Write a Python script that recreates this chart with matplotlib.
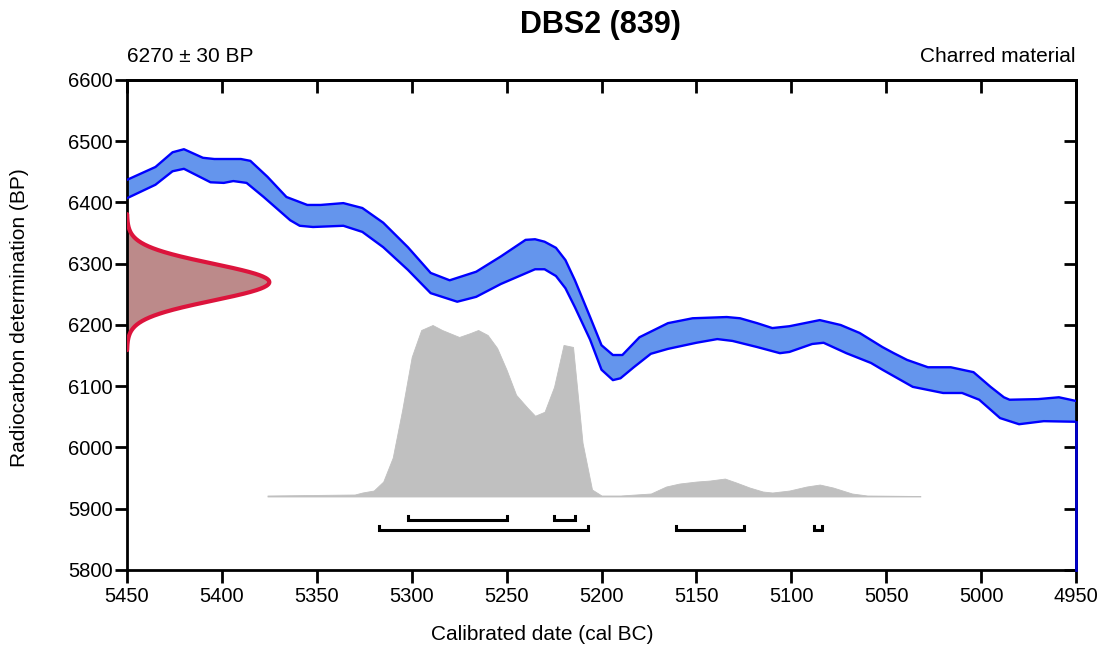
import numpy as np
import matplotlib
matplotlib.use("Agg")
from matplotlib import pyplot as plt

plt.rcParams['font.family'] = ['Liberation Sans', 'DejaVu Sans']

# radiocarbon measurement
c14_mean = 6270
c14_sd = 30

# calibration curve, upper edge (cal BC, BP)
upper_year = [5450, 5435, 5426, 5420, 5410, 5404, 5390, 5385, 5376, 5366, 5355, 5348,
              5336, 5326, 5315, 5302, 5290, 5280, 5266, 5253, 5240, 5235, 5230, 5224,
              5219, 5214, 5206, 5200, 5194, 5189, 5180, 5165, 5152, 5134, 5127, 5118,
              5110, 5101, 5085, 5074, 5064, 5052, 5046, 5039, 5028, 5016, 5004, 4995,
              4988, 4985, 4970, 4959, 4950]
upper_bp = [6437, 6458, 6482, 6487, 6473, 6471, 6471, 6468, 6442, 6409, 6396, 6396,
            6399, 6391, 6367, 6327, 6285, 6273, 6287, 6312, 6339, 6340, 6336, 6326,
            6306, 6273, 6213, 6167, 6151, 6151, 6180, 6203, 6211, 6213, 6211, 6203,
            6195, 6198, 6208, 6200, 6187, 6164, 6154, 6143, 6131, 6131, 6123, 6099,
            6082, 6078, 6079, 6082, 6076]

# calibration curve, lower edge
lower_year = [5450, 5435, 5426, 5420, 5406, 5399, 5394, 5387, 5378, 5364, 5359, 5352,
              5336, 5326, 5315, 5302, 5290, 5276, 5266, 5253, 5235, 5230, 5224, 5219,
              5214, 5206, 5200, 5194, 5190, 5183, 5174, 5165, 5150, 5139, 5131, 5118,
              5106, 5101, 5089, 5083, 5071, 5058, 5052, 5036, 5020, 5010, 5001, 4990,
              4980, 4967, 4950]
lower_bp = [6407, 6429, 6451, 6455, 6433, 6432, 6435, 6432, 6409, 6371, 6362, 6360,
            6362, 6352, 6327, 6290, 6252, 6238, 6246, 6267, 6291, 6291, 6280, 6260,
            6229, 6176, 6127, 6110, 6113, 6131, 6153, 6161, 6171, 6177, 6174, 6164,
            6154, 6156, 6169, 6171, 6154, 6138, 6127, 6099, 6089, 6089, 6078, 6048,
            6038, 6043, 6042]

# calibrated probability (relative)
post_year = [5376, 5330, 5326, 5320, 5315, 5310, 5305, 5300, 5295, 5289, 5284, 5275,
             5269, 5265, 5260, 5255, 5250, 5245, 5239, 5235, 5230, 5225, 5220, 5215,
             5210, 5205, 5200, 5190, 5174, 5166, 5159, 5150, 5143, 5135, 5129, 5122,
             5115, 5110, 5101, 5092, 5085, 5078, 5068, 5060, 5032]
post_prob = [1, 2, 4, 6, 15, 39, 87, 140, 167, 172, 167, 160,
             164, 167, 162, 149, 127, 102, 89, 81, 85, 110, 152, 150,
             54, 7, 1, 1, 3, 10, 13, 15, 16, 18, 14, 9,
             5, 4, 6, 10, 12, 9, 3, 1, 0.5]

# 68.2% and 95.4% ranges
ranges_68 = [(5302, 5250), (5225, 5214)]
ranges_95 = [(5317, 5207), (5161, 5125), (5088, 5084)]

fig = plt.figure(figsize=(11.03, 6.47), dpi=100)
ax = fig.add_axes([127 / 1103, 1 - 570 / 647, 949 / 1103, 490 / 647])

# calibration curve band
ax.fill(np.r_[upper_year, lower_year[::-1]], np.r_[upper_bp, lower_bp[::-1]],
        color='#6495ED', lw=0, zorder=2)
ax.plot(upper_year, upper_bp, color='#0000FF', lw=1.7, zorder=3, solid_joinstyle='round')
ax.plot(lower_year, lower_bp, color='#0000FF', lw=1.7, zorder=3, solid_joinstyle='round')
ax.plot([4950, 4950], [lower_bp[-1], 5800], color='#0000CC', lw=2, zorder=4, clip_on=False)

# measurement distribution on the y axis
bp = np.linspace(c14_mean - 3.7 * c14_sd, c14_mean + 3.7 * c14_sd, 300)
dens = np.exp(-0.5 * ((bp - c14_mean) / c14_sd) ** 2)
gx = 5450 - 75 * dens
ax.fill_betweenx(bp, 5450, gx, color='#BC8A8A', lw=0, zorder=2)
ax.plot(gx, bp, color='#DC143C', lw=3, zorder=4, solid_capstyle='round')

# calibrated distribution
base, height = 5920, 280
prob = np.array(post_prob) / max(post_prob)
ax.fill_between(post_year, base, base + prob * height, color='#C0C0C0',
                edgecolor='#C0C0C0', lw=0.6, zorder=1)

# range brackets
for lev, rng in [(5882, ranges_68), (5866, ranges_95)]:
    for a, b in rng:
        ax.plot([a, a, b, b], [lev + 6.5, lev, lev, lev + 6.5], color='black',
                lw=2.2, solid_joinstyle='miter', zorder=3)

ax.set_xlim(5450, 4950)
ax.set_ylim(5800, 6600)
ax.set_xticks(np.arange(5450, 4949, -50))
ax.set_yticks(np.arange(5800, 6601, 100))
for s in ax.spines.values():
    s.set_linewidth(2)
ax.tick_params(direction='out', length=9, width=2, labelsize=14.5, pad=3)
ax.tick_params(axis='y', pad=1)

top = ax.secondary_xaxis('top')
top.set_xticks(np.arange(5450, 4949, -50))
top.tick_params(direction='in', length=9, width=2, labeltop=False)
top.spines['top'].set_linewidth(2)
right = ax.secondary_yaxis('right')
right.set_yticks(np.arange(5800, 6601, 100))
right.tick_params(direction='in', length=9, width=2, labelright=False)
right.spines['right'].set_linewidth(2)

fig.text(600 / 1103, 1 - 25 / 647, 'DBS2 (839)', fontsize=22, fontweight='bold',
         ha='center', va='center')
fig.text(127 / 1103, 1 - 57 / 647, '6270 ± 30 BP', fontsize=15, ha='left', va='center')
fig.text(1075 / 1103, 1 - 57 / 647, 'Charred material', fontsize=15, ha='right', va='center')
fig.text(542 / 1103, 1 - 635 / 647, 'Calibrated date (cal BC)', fontsize=15,
         ha='center', va='center')
fig.text(20 / 1103, 1 - 318 / 647, 'Radiocarbon determination (BP)', fontsize=15,
         ha='center', va='center', rotation=90)

fig.savefig('out.png', dpi=100)
